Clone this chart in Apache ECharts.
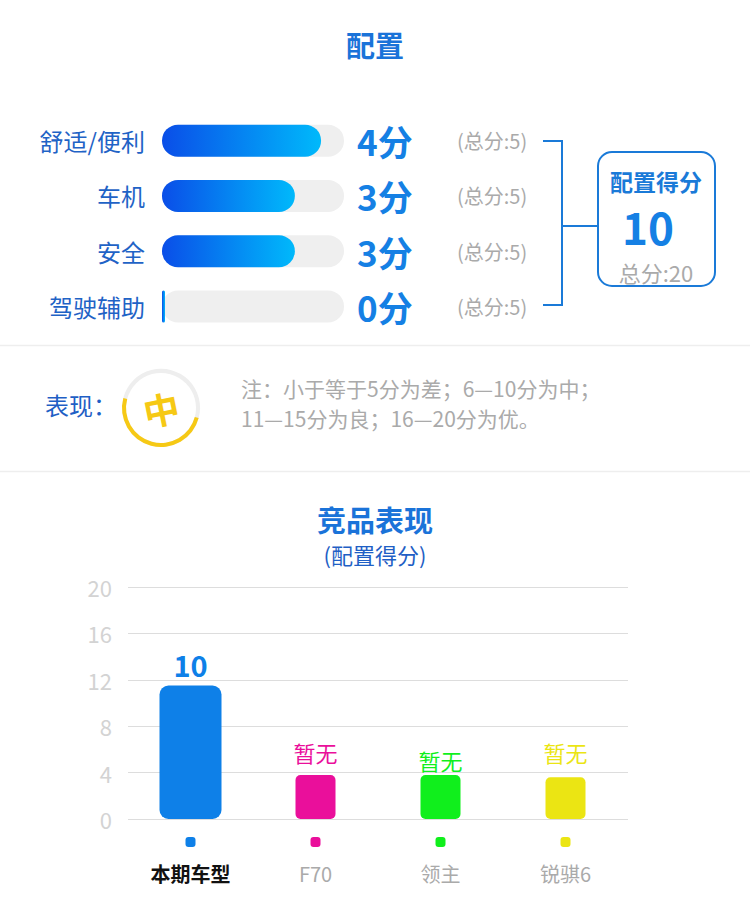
<!DOCTYPE html>
<html>
<head>
<meta charset="utf-8">
<script src="https://cdn.jsdelivr.net/npm/echarts@6/dist/echarts.min.js"></script>
<style>
  html, body { margin: 0; padding: 0; background: #fff; }
  #chart { width: 750px; height: 904px; }
</style>
</head>
<body>
<div id="chart"></div>
<script>
// config items (top part)
const itemNames = ['舒适/便利', '车机', '安全', '驾驶辅助'];
const itemScores = [4, 3, 3, 0];
const itemFull = [5, 5, 5, 5];
const itemBarLengths = [4.37, 3.65, 3.65, 0]; // drawn length

const totalScore = 10;
const totalFull = 20;
const ratingText = '中';
const noteLines = ['注：小于等于5分为差；6—10分为中；', '11—15分为良；16—20分为优。'];

// rival chart (bottom part)
const rivals = ['本期车型', 'F70', '领主', '锐骐6'];
const rivalBars = [11.5, 3.8, 3.8, 3.6];
const rivalLabels = ['10', '暂无', '暂无', '暂无'];
const rivalColors = ['#0e80e8', '#ea0f9b', '#10ef1c', '#ebe513'];
const rivalLabelGaps = [7, 12, 4, 14];

const FONT = '"Noto Sans CJK SC", "Noto Sans", sans-serif';
const BLUE = '#1a7ad8';

const chart = echarts.init(document.getElementById('chart'), null, { renderer: 'svg' });

const dotRich = {};
rivalColors.forEach((c, i) => {
  dotRich['d' + i] = { width: 10, height: 10, lineHeight: 12, borderRadius: 3, backgroundColor: c };
});
dotRich.b = { fontSize: 20, fontWeight: 'bold', color: '#111111', lineHeight: 50, fontFamily: FONT };
dotRich.n = { fontSize: 20, color: '#aaaaaa', lineHeight: 50, fontFamily: FONT };

// centred text helper for the graphic layer
const txt = (x, y, text, size, fill, extra) => ({
  type: 'text', x, y,
  style: Object.assign({
    text, fontSize: size, lineHeight: size, fill,
    align: 'center', verticalAlign: 'middle', fontFamily: FONT
  }, extra || {})
});

const option = {
  animation: false,
  textStyle: { fontFamily: FONT },
  title: [
    { text: '配置', left: 'center', top: 29, padding: 0,
      textStyle: { fontSize: 29, lineHeight: 29, fontWeight: 'bold', color: '#1a73d9' } },
    { text: '竞品表现', left: 'center', top: 504, padding: 0,
      textStyle: { fontSize: 29, lineHeight: 29, fontWeight: 'bold', color: '#1a73d9' } },
    { text: '(配置得分)', left: 'center', top: 543, padding: 0,
      textStyle: { fontSize: 22, lineHeight: 22, fontWeight: 'normal', color: '#1f5fc5' } }
  ],
  grid: [
    { left: 162, width: 182, top: 113, height: 221 },
    { left: 128, right: 122, top: 587, bottom: 85 }
  ],
  xAxis: [
    { type: 'value', gridIndex: 0, min: 0, max: 5, show: false },
    {
      type: 'category', gridIndex: 1, data: rivals,
      axisLine: { show: false }, axisTick: { show: false },
      axisLabel: {
        margin: 17,
        formatter: (v, i) => `{d${i}|}\n{${i === 0 ? 'b' : 'n'}|${v}}`,
        rich: dotRich
      }
    },
    { type: 'category', gridIndex: 1, data: rivals, show: false }
  ],
  yAxis: [
    {
      type: 'category', gridIndex: 0, data: itemNames, inverse: true,
      axisLine: { show: false }, axisTick: { show: false },
      axisLabel: { fontSize: 24, color: '#1f63c6', margin: 17 }
    },
    {
      type: 'value', gridIndex: 1, min: 0, max: 20, interval: 4,
      axisLine: { show: false }, axisTick: { show: false },
      axisLabel: { fontSize: 22, color: '#d3d3d3', margin: 16 },
      splitLine: { lineStyle: { color: '#dddddd', width: 1 } }
    }
  ],
  series: [
    {
      name: 'track', type: 'bar', xAxisIndex: 0, yAxisIndex: 0,
      data: itemFull, barWidth: 32, silent: true,
      itemStyle: { color: '#efefef', borderRadius: 16 },
      label: {
        show: true, position: 'right', distance: 13,
        formatter: p => `{s|${itemScores[p.dataIndex]}分}{t|(总分:${itemFull[p.dataIndex]})}`,
        rich: {
          s: { fontSize: 35, fontWeight: 'bold', color: '#1580e4', width: 100, fontFamily: FONT },
          t: { fontSize: 20, color: '#aaaaaa', fontFamily: FONT }
        }
      }
    },
    {
      name: 'score', type: 'bar', xAxisIndex: 0, yAxisIndex: 0,
      data: itemBarLengths, barWidth: 32, barGap: '-100%', barMinHeight: 3,
      itemStyle: {
        borderRadius: 16,
        color: new echarts.graphic.LinearGradient(0, 0, 1, 0, [
          { offset: 0, color: '#0a4ee8' },
          { offset: 1, color: '#00b9fb' }
        ])
      }
    },
    {
      name: 'rating', type: 'gauge', center: [161, 408], radius: 39,
      startAngle: 345, endAngle: -15, min: 0, max: totalFull,
      data: [{ value: totalScore }],
      axisLine: { lineStyle: { width: 4, color: [[1, '#eeeeee']] } },
      progress: { show: true, width: 4, itemStyle: { color: '#f6c915' } },
      pointer: { show: false }, anchor: { show: false },
      axisTick: { show: false }, splitLine: { show: false }, axisLabel: { show: false },
      title: { show: false }, detail: { show: false }
    },
    {
      name: 'own', type: 'bar', xAxisIndex: 1, yAxisIndex: 1,
      data: rivalBars.map((v, i) => (i === 0 ? v : '-')),
      barWidth: 62,
      itemStyle: { color: rivalColors[0], borderRadius: 9 },
      label: {
        show: true, position: 'top', distance: rivalLabelGaps[0],
        formatter: p => rivalLabels[p.dataIndex],
        fontSize: 29, fontWeight: 'bold', color: rivalColors[0]
      }
    },
    {
      name: 'rivals', type: 'bar', xAxisIndex: 2, yAxisIndex: 1,
      data: rivalBars.map((v, i) => (i === 0 ? '-' : {
        value: v,
        itemStyle: { color: rivalColors[i] },
        label: { color: rivalColors[i], distance: rivalLabelGaps[i] }
      })),
      barWidth: 40,
      itemStyle: { borderRadius: 5 },
      label: {
        show: true, position: 'top',
        formatter: p => rivalLabels[p.dataIndex],
        fontSize: 22
      }
    }
  ],
  graphic: [
    // section separators
    { type: 'line', shape: { x1: 0, y1: 345.5, x2: 750, y2: 345.5 }, style: { stroke: '#eeeeee', lineWidth: 1.5 } },
    { type: 'line', shape: { x1: 0, y1: 471.5, x2: 750, y2: 471.5 }, style: { stroke: '#eeeeee', lineWidth: 1.5 } },
    // bracket
    { type: 'polyline', shape: { points: [[543, 141], [562, 141], [562, 305], [543, 305]] },
      style: { stroke: BLUE, lineWidth: 2, fill: null } },
    { type: 'line', shape: { x1: 562, y1: 226, x2: 598, y2: 226 }, style: { stroke: BLUE, lineWidth: 2 } },
    // score box
    { type: 'rect', shape: { x: 598, y: 152, width: 117, height: 134, r: 14 },
      style: { fill: 'none', stroke: BLUE, lineWidth: 2 } },
    txt(656, 181, '配置得分', 23, BLUE, { fontWeight: 'bold' }),
    txt(648, 226, String(totalScore), 44, '#1580e4', { fontWeight: 'bold', lineHeight: 32 }),
    txt(656, 272, '总分:' + totalFull, 22, '#aaaaaa'),
    // rating row
    txt(45, 404, '表现：', 24, '#1f5fc5', { align: 'left' }),
    Object.assign(txt(161, 408, ratingText, 36, '#f6c915', { fontWeight: 'bold' }), { rotation: 0.2 }),
    txt(241, 388, noteLines[0], 21, '#aaaaaa', { align: 'left' }),
    txt(241, 418, noteLines[1], 21, '#aaaaaa', { align: 'left' })
  ]
};

chart.setOption(option);
</script>
</body>
</html>
